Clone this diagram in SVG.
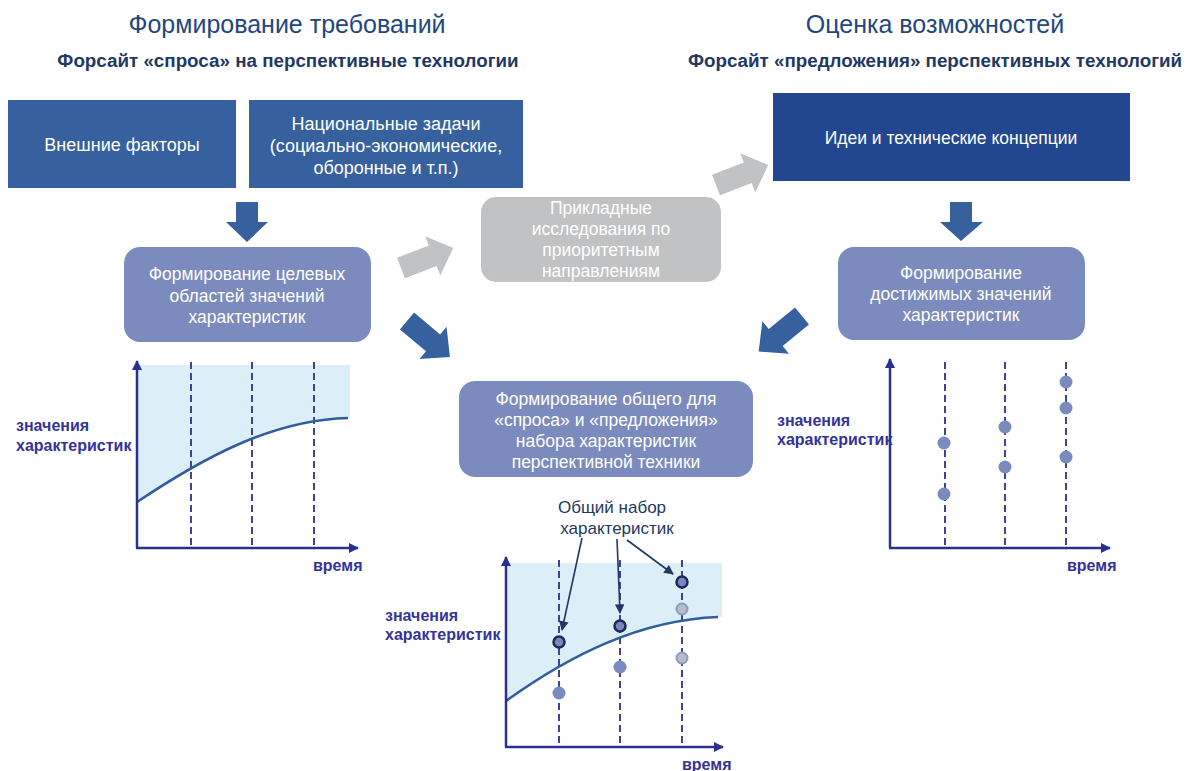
<svg xmlns="http://www.w3.org/2000/svg" width="1191" height="771" viewBox="0 0 1191 771">
<defs>
<style>
text{font-family:"Liberation Sans",Arial,sans-serif}
.title{font-size:25px;fill:#23467e;text-anchor:middle}
.sub{font-size:18.8px;font-weight:bold;fill:#1f3864;text-anchor:middle}
.bt{font-size:17.5px;fill:#ffffff;text-anchor:middle}
.bt18{font-size:18px;fill:#ffffff;text-anchor:middle}
.sq1{fill:#36619e}
.sq2{fill:#22468f}
.rb{fill:#7b8bbd}
.gb{fill:#c1c2c4}
.barrow{fill:#36619e}
.garrow{fill:#c1c2c4}
.axis{stroke:#2b3090;stroke-width:2.5;fill:none}
.dash{stroke:#2b3090;stroke-width:1.8;stroke-dasharray:7 4;fill:none}
.lab{font-size:16px;font-weight:bold;fill:#333399}
.shade{fill:#dceef8}
.curve{stroke:#2f5d9e;stroke-width:2.5;fill:none}
.dot{fill:#7b8bbd}
.dring{fill:#7b87b8;stroke:#1a2a5a;stroke-width:2.5}
.gring{fill:#b8bcc8;stroke:#8f9ac5;stroke-width:2}
.call{stroke:#1f3864;stroke-width:1.6;fill:none}
.calltext{font-size:17px;fill:#1f3864;text-anchor:middle}
</style>
<marker id="ax" viewBox="0 0 10 10" refX="9" refY="5" markerWidth="4" markerHeight="4" orient="auto" markerUnits="strokeWidth">
<path d="M0,0 L10,5 L0,10 Z" fill="#2b3090"/>
</marker>
<marker id="ca" viewBox="0 0 10 10" refX="9" refY="5" markerWidth="7" markerHeight="6" orient="auto" markerUnits="strokeWidth">
<path d="M0,0 L10,5 L0,10 Z" fill="#1f3864"/>
</marker>
<path id="blk" d="M0,-11 H34 V-21 L56,0 L34,21 V11 H0 Z"/>
</defs>

<rect width="1191" height="771" fill="#ffffff"/>

<g id="headers">
<text class="title" x="287" y="33">Формирование  требований</text>
<text class="sub" x="288" y="67">Форсайт  «спроса» на перспективные технологии</text>
<text class="title" x="935" y="33">Оценка  возможностей</text>
<text class="sub" x="935" y="67">Форсайт  «предложения» перспективных технологий</text>
</g>

<g id="n-external">
<rect class="sq1" x="8" y="100" width="228" height="88"/>
<text class="bt18" x="122" y="151">Внешние факторы</text>
</g>

<g id="n-national">
<rect class="sq1" x="249" y="100" width="274" height="88"/>
<text class="bt18" x="386" y="130">Национальные задачи</text>
<text class="bt18" x="386" y="152">(социально-экономические,</text>
<text class="bt18" x="386" y="174">оборонные и т.п.)</text>
</g>

<g id="n-ideas">
<rect class="sq2" x="773" y="93" width="357" height="88"/>
<text class="bt" x="951" y="144">Идеи и технические концепции</text>
</g>

<g id="n-target">
<rect class="rb" x="124" y="247" width="247" height="95" rx="16"/>
<text class="bt" x="247" y="280">Формирование  целевых</text>
<text class="bt" x="247" y="302">областей значений</text>
<text class="bt" x="247" y="323">характеристик</text>
</g>

<g id="n-applied">
<rect class="gb" x="481" y="197" width="240" height="85" rx="15"/>
<text class="bt" x="601" y="214">Прикладные</text>
<text class="bt" x="601" y="235">исследования по</text>
<text class="bt" x="601" y="256">приоритетным</text>
<text class="bt" x="601" y="277">направлениям</text>
</g>

<g id="n-achievable">
<rect class="rb" x="838" y="247" width="247" height="93" rx="16"/>
<text class="bt" x="961" y="279">Формирование</text>
<text class="bt" x="961" y="300">достижимых значений</text>
<text class="bt" x="961" y="321">характеристик</text>
</g>

<g id="n-common">
<rect class="rb" x="459" y="381" width="294" height="96" rx="16"/>
<text class="bt" x="606" y="405">Формирование  общего для</text>
<text class="bt" x="606" y="426">«спроса» и «предложения»</text>
<text class="bt" x="606" y="447">набора характеристик</text>
<text class="bt" x="606" y="468">перспективной техники</text>
</g>

<g id="connectors">
<path class="barrow" d="M236,202 H258 V222 H268 L247,242 L226,222 H236 Z"/>
<path class="barrow" d="M950,202 H972 V222 H983 L961,241 L940,222 H950 Z"/>
<use href="#blk" class="garrow" transform="translate(401,268) rotate(-21)"/>
<use href="#blk" class="garrow" transform="translate(716,185) rotate(-21)"/>
<use href="#blk" class="barrow" transform="translate(407,321) rotate(40)"/>
<use href="#blk" class="barrow" transform="translate(802,316) rotate(140.7)"/>
</g>

<g id="chart-demand">
<path class="shade" d="M137,365 L350,365 L350,418 L348,418 C270,420 200,460 137,502 Z"/>
<line class="dash" x1="191" y1="362" x2="191" y2="548"/>
<line class="dash" x1="252" y1="362" x2="252" y2="548"/>
<line class="dash" x1="314" y1="362" x2="314" y2="548"/>
<path class="curve" d="M137,502 C200,460 270,420 348,418"/>
<line class="axis" x1="137" y1="548" x2="137" y2="361" marker-end="url(#ax)"/>
<line class="axis" x1="136" y1="548" x2="358" y2="548" marker-end="url(#ax)"/>
<text class="lab" x="16" y="431">значения</text>
<text class="lab" x="16" y="451">характеристик</text>
<text class="lab" x="313" y="571">время</text>
</g>

<g id="chart-common">
<path class="shade" d="M506,563 L722,563 L722,617 L718,617 C640,620 570,655 506,701 Z"/>
<line class="dash" x1="559" y1="560" x2="559" y2="747"/>
<line class="dash" x1="620" y1="560" x2="620" y2="747"/>
<line class="dash" x1="682" y1="560" x2="682" y2="747"/>
<path class="curve" d="M506,701 C570,655 640,620 718,617"/>
<line class="axis" x1="506" y1="747" x2="506" y2="557" marker-end="url(#ax)"/>
<line class="axis" x1="505" y1="747" x2="723" y2="747" marker-end="url(#ax)"/>
<circle class="dot" cx="559" cy="693" r="6.5"/>
<circle class="dot" cx="620" cy="667" r="6.5"/>
<circle class="gring" cx="682" cy="609" r="5.5"/>
<circle class="gring" cx="682" cy="658" r="5.5"/>
<circle class="dring" cx="559" cy="642" r="5.5"/>
<circle class="dring" cx="620" cy="626" r="5.5"/>
<circle class="dring" cx="682" cy="582" r="5.5"/>
<text class="calltext" x="612" y="513">Общий набор</text>
<text class="calltext" x="617" y="534">характеристик</text>
<line class="call" x1="582" y1="538" x2="562" y2="630" marker-end="url(#ca)"/>
<line class="call" x1="617" y1="539" x2="620" y2="613" marker-end="url(#ca)"/>
<line class="call" x1="627" y1="540" x2="673" y2="574" marker-end="url(#ca)"/>
<text class="lab" x="385" y="621">значения</text>
<text class="lab" x="385" y="640">характеристик</text>
<text class="lab" x="682" y="770">время</text>
</g>

<g id="chart-supply">
<line class="dash" x1="945" y1="362" x2="945" y2="548"/>
<line class="dash" x1="1005" y1="362" x2="1005" y2="548"/>
<line class="dash" x1="1066" y1="362" x2="1066" y2="548"/>
<line class="axis" x1="890" y1="548" x2="890" y2="359" marker-end="url(#ax)"/>
<line class="axis" x1="889" y1="548" x2="1110" y2="548" marker-end="url(#ax)"/>
<circle class="dot" cx="944" cy="443" r="6.5"/>
<circle class="dot" cx="944" cy="494" r="6.5"/>
<circle class="dot" cx="1005" cy="427" r="6.5"/>
<circle class="dot" cx="1005" cy="467" r="6.5"/>
<circle class="dot" cx="1066" cy="382" r="6.5"/>
<circle class="dot" cx="1066" cy="408" r="6.5"/>
<circle class="dot" cx="1066" cy="457" r="6.5"/>
<text class="lab" x="777" y="426">значения</text>
<text class="lab" x="777" y="445">характеристик</text>
<text class="lab" x="1067" y="571">время</text>
</g>
</svg>
